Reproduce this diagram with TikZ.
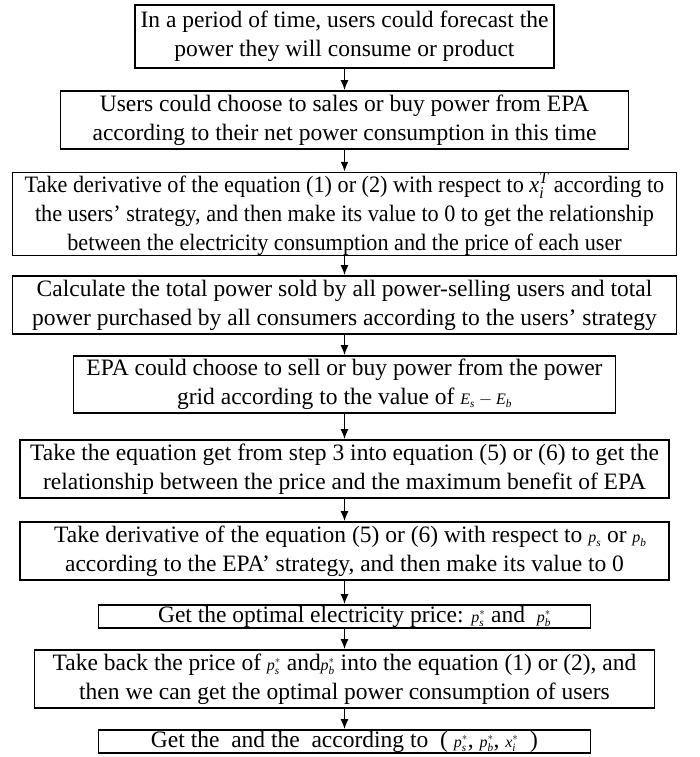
\documentclass[tikz,border=0pt]{standalone}
\usepackage{amsmath}
\usepackage{graphicx}
\usepackage{fontspec}
\setmainfont{Liberation Serif}
\usetikzlibrary{arrows.meta}

% italic letters in formulas, taken from the text font
\newcommand{\vr}[1]{\textit{#1}}
\newcommand{\sm}[1]{{\fontsize{16}{16}\selectfont$#1$}}
\newcommand{\nar}[1]{\scalebox{0.945}[1]{#1}}

\begin{document}
\begin{tikzpicture}[x=1pt,y=-1pt]
      \useasboundingbox (0,0) rectangle (700,757);

      \begin{scope}[every node/.style={draw,line width=1.6pt,align=center,inner sep=0pt,
          font=\fontsize{23.5}{29}\selectfont}]
        \node[minimum width=419pt,minimum height=63pt] (1) at (344.5,36.5)
          {In a period of time, users could forecast the\\power they will consume or product};
        \node[minimum width=568pt,minimum height=58pt] (2) at (344.5,120)
          {Users could choose to sales or buy power from EPA\\according to their net power consumption in this time};
        \node[minimum width=664pt,minimum height=82pt] (3) at (344.5,214)
          {\nar{Take derivative of the equation (1) or (2) with respect to $\vr{x}_{\vr{i}}^{\vr{T}}$ according to}\\
           \nar{the users’ strategy, and then make its value to 0 to get the relationship}\\
           \nar{between the electricity consumption and the price of each user}};
        \node[minimum width=664pt,minimum height=58pt] (4) at (344.5,305)
          {Calculate the total power sold by all power-selling users and total\\
           power purchased by all consumers according to the users’ strategy};
        \node[minimum width=542pt,minimum height=57pt] (5) at (344.5,384.5)
          {EPA could choose to sell or buy power from the power\\
           grid according to the value of \sm{\vr{E}_{\vr{s}}-\vr{E}_{\vr{b}}}};
        \node[minimum width=649pt,minimum height=58pt] (6) at (344.5,469)
          {Take the equation get from step 3 into equation (5) or (6) to get the\\
           relationship between the price and the maximum benefit of EPA};
        \node[minimum width=649pt,minimum height=58pt] (7) at (344.5,551)
          {\ \ Take derivative of the equation (5) or (6) with respect to \sm{\vr{p}_{\vr{s}}} or \sm{\vr{p}_{\vr{b}}}\\
           according to the EPA’ strategy, and then make its value to 0};
        \node[minimum width=492pt,minimum height=23pt] (8) at (344.5,616.5)
          {\hspace*{20pt}Get the optimal electricity price: \sm{\vr{p}_{\vr{s}}^{*}} and \ \sm{\vr{p}_{\vr{b}}^{*}}};
        \node[minimum width=620pt,minimum height=58pt] (9) at (344.5,679)
          {Take back the price of \sm{\vr{p}_{\vr{s}}^{*}} and\sm{\vr{p}_{\vr{b}}^{*}} into the equation (1) or (2), and\\
           then we can get the optimal power consumption of users};
        \node[minimum width=492pt,minimum height=23pt] (10) at (344.5,741.5)
          {Get the \ and the \ according to \ (\ \sm{\vr{p}_{\vr{s}}^{*}}, \sm{\vr{p}_{\vr{b}}^{*}}, \sm{\vr{x}_{\vr{i}}^{*}}\ \ )};
      \end{scope}

      \begin{scope}[every edge/.style={draw,line width=1.6pt,-{Latex[length=10pt,width=8pt]}}]
        \path (1) edge (2);
        \path (2) edge (3);
        \path (3) edge (4);
        \path (4) edge (5);
        \path (5) edge (6);
        \path (6) edge (7);
        \path (7) edge (8);
        \path (8) edge (9);
        \path (9) edge (10);
      \end{scope}

    \end{tikzpicture}
\end{document}
